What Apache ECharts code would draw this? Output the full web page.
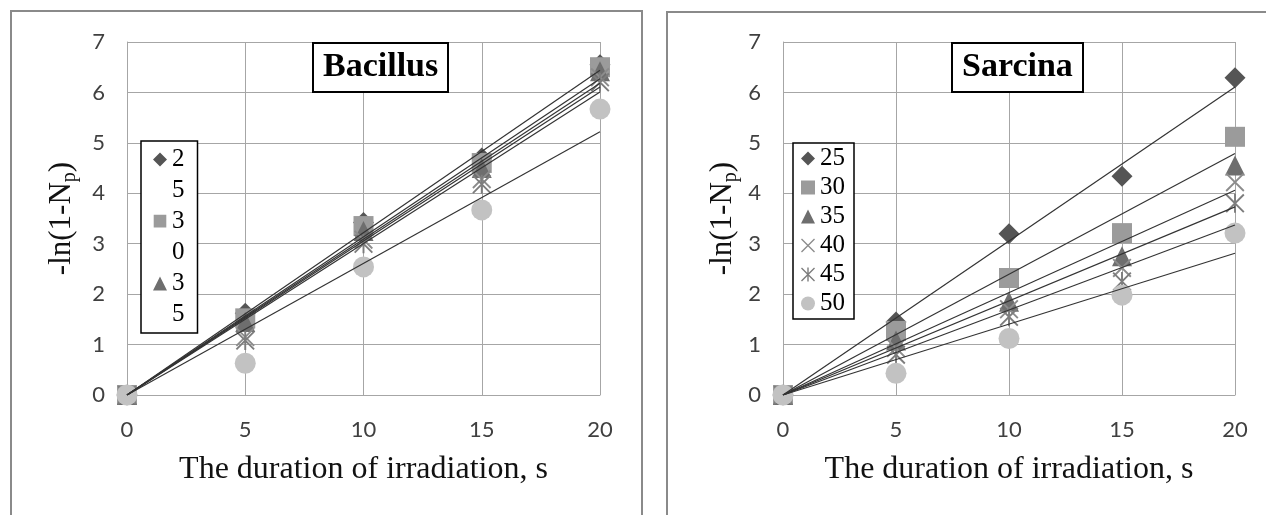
<!DOCTYPE html>
<html><head><meta charset="utf-8">
<script src="https://cdn.jsdelivr.net/npm/echarts@6/dist/echarts.min.js"></script>
<style>html,body{margin:0;padding:0;background:#fff}#c{width:1266px;height:515px}</style>
</head><body><div id="c"></div>
<script>
// ---------- data ----------
const xValues = [0, 5, 10, 15, 20];
const seriesNames = ['25', '30', '35', '40', '45', '50'];

const bacillus25 = [0, 1.62, 3.42, 4.70, 6.55];
const bacillus30 = [0, 1.52, 3.35, 4.60, 6.50];
const bacillus35 = [0, 1.45, 3.25, 4.50, 6.42];
const bacillus40 = [0, 1.15, 3.08, 4.28, 6.30];
const bacillus45 = [0, 1.08, 3.00, 4.18, 6.20];
const bacillus50 = [0, 0.63, 2.54, 3.67, 5.67];
const bacillusTrendEnd = [6.44, 6.27, 6.18, 6.11, 6.01, 5.22];

const sarcina25 = [0, 1.45, 3.20, 4.34, 6.29];
const sarcina30 = [0, 1.27, 2.32, 3.21, 5.12];
const sarcina35 = [0, 1.08, 1.85, 2.75, 4.55];
const sarcina40 = [0, 0.93, 1.70, 2.52, 4.22];
const sarcina45 = [0, 0.80, 1.55, 2.25, 3.80];
const sarcina50 = [0, 0.43, 1.12, 1.98, 3.21];
const sarcinaTrendEnd = [6.11, 4.79, 4.06, 3.73, 3.37, 2.81];

const xTickValues = [0, 5, 10, 15, 20];
const yTickValues = [0, 1, 2, 3, 4, 5, 6, 7];
const leftLegendNames = ['25', '30', '35'];

// ---------- styles ----------
const X_PATH = 'path://M0,0.7 L0.7,0 L10,9.3 L9.3,10 Z M0.7,10 L0,9.3 L9.3,0 L10,0.7 Z';
const STAR_PATH = 'path://M0,0.7 L0.7,0 L10,9.3 L9.3,10 Z M0.7,10 L0,9.3 L9.3,0 L10,0.7 Z M4.5,0 L5.5,0 L5.5,10 L4.5,10 Z';
const symbols = ['diamond', 'rect', 'triangle', X_PATH, STAR_PATH, 'circle'];
const colors = ['#555555', '#9b9b9b', '#6e6e6e', '#8c8c8c', '#7d7d7d', '#c2c2c2'];
const sizes = [21, 20, 20, 19, 19, 21];

// legend icons for the wrapped left legend (shape on first line)
const DUMMY = ' M5,32.1 L5,32.14';
const leftIcons = [
  'path://M5,0 L10,5 L5,10 L0,5 Z' + DUMMY,
  'path://M0.5,0.5 L9.5,0.5 L9.5,9.5 L0.5,9.5 Z M0,5 L0,5.01 M10,5 L10,5.01' + DUMMY,
  'path://M5,0 L10,10 L0,10 Z' + DUMMY
];

const bacillusData = [bacillus25, bacillus30, bacillus35, bacillus40, bacillus45, bacillus50];
const sarcinaData = [sarcina25, sarcina30, sarcina35, sarcina40, sarcina45, sarcina50];

const tickFont = {fontFamily: 'Lato', fontSize: 22, color: '#404040'};
const serif = 'Liberation Serif';

function makeAxes(idx, yGap) {
  const x = {
    type: 'value', gridIndex: idx,
    min: xTickValues[0], max: xTickValues[xTickValues.length - 1],
    interval: xTickValues[1] - xTickValues[0],
    axisLine: {show: true, lineStyle: {color: '#a6a6a6', width: 1}},
    axisTick: {show: false},
    splitLine: {show: true, lineStyle: {color: '#a6a6a6', width: 1}},
    axisLabel: Object.assign({margin: 24}, tickFont),
    name: 'The duration of irradiation, s', nameLocation: 'middle', nameGap: 59,
    nameTextStyle: {fontFamily: serif, fontSize: 32, color: '#111'}
  };
  const y = {
    type: 'value', gridIndex: idx,
    min: yTickValues[0], max: yTickValues[yTickValues.length - 1],
    interval: yTickValues[1] - yTickValues[0],
    axisLine: {show: true, lineStyle: {color: '#a6a6a6', width: 1}},
    axisTick: {show: false},
    splitLine: {show: true, lineStyle: {color: '#a6a6a6', width: 1}},
    axisLabel: Object.assign({margin: 22}, tickFont),
    name: '-ln(1-N{sub|p})', nameLocation: 'middle', nameGap: yGap,
    nameTextStyle: {fontFamily: serif, fontSize: 31, color: '#111', lineHeight: 36,
      rich: {sub: {fontFamily: serif, fontSize: 20, verticalAlign: 'bottom', lineHeight: 36, padding: [13, 0, 0, 0]}}}
  };
  return [x, y];
}

function makeSeries(idx, dataSets, trendEnds) {
  const out = [];
  dataSets.forEach((vals, i) => {
    out.push({
      type: 'scatter', name: seriesNames[i], xAxisIndex: idx, yAxisIndex: idx,
      symbol: symbols[i], symbolSize: sizes[i],
      itemStyle: {color: colors[i], opacity: 1},
      data: xValues.map((xv, k) => [xv, vals[k]]),
      z: 2, animation: false, silent: true
    });
  });
  trendEnds.forEach((end, i) => {
    out.push({
      type: 'line', name: 'trend ' + seriesNames[i], xAxisIndex: idx, yAxisIndex: idx,
      data: [[xValues[0], 0], [xValues[xValues.length - 1], end]],
      symbol: 'none', lineStyle: {color: '#333333', width: 1.2},
      z: 3, animation: false, silent: true
    });
  });
  return out;
}

const a0 = makeAxes(0, 47);
const a1 = makeAxes(1, 42);

const titleStyle = {fontFamily: serif, fontWeight: 'bold', fontSize: 34, lineHeight: 37, color: '#000'};

const option = {
  animation: false,
  backgroundColor: '#fff',
  graphic: [
    {type: 'rect', shape: {x: 11, y: 11, width: 631, height: 530}, style: {fill: 'none', stroke: '#8a8a8a', lineWidth: 2}, z: -10},
    {type: 'rect', shape: {x: 667, y: 12, width: 640, height: 530}, style: {fill: 'none', stroke: '#8a8a8a', lineWidth: 2}, z: -10}
  ],
  title: [
    {text: 'Bacillus', left: 313, top: 43, padding: [6, 10, 6, 10], borderColor: '#000', borderWidth: 2, backgroundColor: '#fff', textStyle: titleStyle, z: 10},
    {text: 'Sarcina', left: 952, top: 43, padding: [6, 10, 6, 10], borderColor: '#000', borderWidth: 2, backgroundColor: '#fff', textStyle: titleStyle, z: 10}
  ],
  grid: [
    {left: 127, top: 42, width: 473, height: 353},
    {left: 783, top: 42, width: 452, height: 353}
  ],
  xAxis: [a0[0], a1[0]],
  yAxis: [a0[1], a1[1]],
  legend: [
    {
      left: 141, top: 141, orient: 'vertical', itemGap: 0, itemWidth: 14, itemHeight: 45,
      padding: [3, 13, 3, 12], borderColor: '#000', borderWidth: 1.5, backgroundColor: '#fff',
      selectedMode: false,
      data: leftLegendNames.map((n, i) => ({name: n, icon: leftIcons[i]})),
      formatter: n => n.split('').join('\n'),
      textStyle: {fontFamily: serif, fontSize: 25, lineHeight: 31, color: '#000'},
      z: 10
    },
    {
      left: 793, top: 143, orient: 'vertical', itemGap: 0, itemWidth: 14, itemHeight: 14,
      padding: [1, 9, 1, 8], borderColor: '#000', borderWidth: 1.5, backgroundColor: '#fff',
      selectedMode: false,
      data: seriesNames.slice(),
      textStyle: {fontFamily: serif, fontSize: 25, lineHeight: 29, color: '#000'},
      z: 10
    }
  ],
  series: makeSeries(0, bacillusData, bacillusTrendEnd).concat(makeSeries(1, sarcinaData, sarcinaTrendEnd))
};

const chart = echarts.init(document.getElementById('c'), null, {renderer: 'canvas'});
chart.setOption(option);
</script>
</body></html>
